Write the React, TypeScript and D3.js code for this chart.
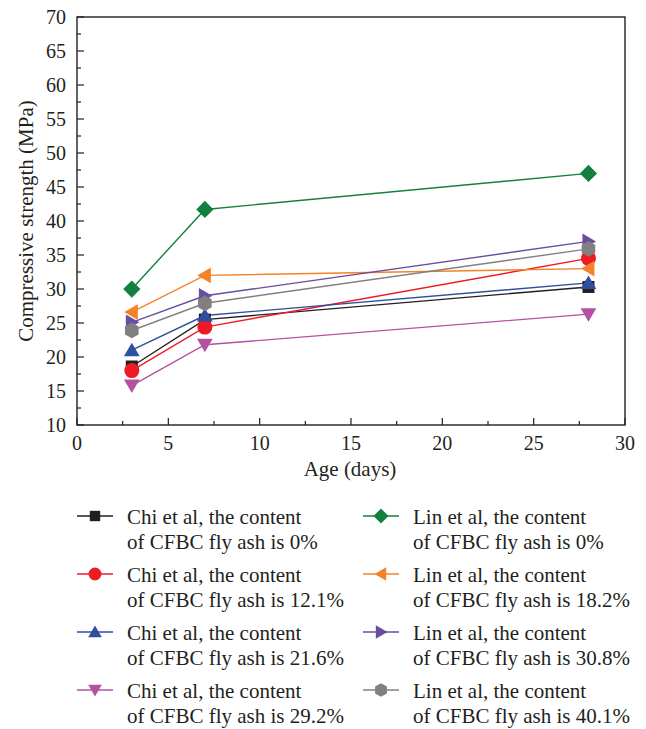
import React from "react";
import * as d3 from "d3";

const ages = [3, 7, 28];
const seriesNames = [
  "Chi et al, the content|of CFBC fly ash is 0%",
  "Chi et al, the content|of CFBC fly ash is 12.1%",
  "Chi et al, the content|of CFBC fly ash is 21.6%",
  "Chi et al, the content|of CFBC fly ash is 29.2%",
  "Lin et al, the content|of CFBC fly ash is 0%",
  "Lin et al, the content|of CFBC fly ash is 18.2%",
  "Lin et al, the content|of CFBC fly ash is 30.8%",
  "Lin et al, the content|of CFBC fly ash is 40.1%",
];
const chi0 = [18.6, 25.5, 30.3];
const chi121 = [18.0, 24.4, 34.5];
const chi216 = [21.0, 26.1, 30.9];
const chi292 = [15.8, 21.8, 26.3];
const lin0 = [30.0, 41.7, 47.0];
const lin182 = [26.6, 32.0, 33.0];
const lin308 = [25.1, 29.0, 37.0];
const lin401 = [23.9, 27.9, 35.9];
const seriesValues = [chi0, chi121, chi216, chi292, lin0, lin182, lin308, lin401];
const colors = ["#231f20", "#ed1c24", "#2e4fa0", "#b5529f", "#13803f", "#f58229", "#6a4ca0", "#808080"];
const markers = ["square", "circle", "up", "down", "diamond", "left", "right", "hex"];
const xTicks = [0, 5, 10, 15, 20, 25, 30];
const yTicks = [10, 15, 20, 25, 30, 35, 40, 45, 50, 55, 60, 65, 70];

const FONT = "'Liberation Serif', 'DejaVu Serif', serif";

function markerPath(type: string, s: number): string {
  switch (type) {
    case "square":
      return `M${-s * 0.8},${-s * 0.8}H${s * 0.8}V${s * 0.8}H${-s * 0.8}Z`;
    case "circle":
      return d3.symbol(d3.symbolCircle, Math.PI * s * s)() as string;
    case "up":
      return `M0,${-s}L${s * 1.05},${s * 0.8}L${-s * 1.05},${s * 0.8}Z`;
    case "down":
      return `M0,${s}L${s * 1.05},${-s * 0.8}L${-s * 1.05},${-s * 0.8}Z`;
    case "left":
      return `M${-s},0L${s * 0.8},${-s * 1.05}L${s * 0.8},${s * 1.05}Z`;
    case "right":
      return `M${s},0L${-s * 0.8},${-s * 1.05}L${-s * 0.8},${s * 1.05}Z`;
    case "diamond":
      return `M0,${-s * 1.15}L${s * 1.15},0L0,${s * 1.15}L${-s * 1.15},0Z`;
    case "hex": {
      const pts = d3.range(6).map((i) => {
        const a = (Math.PI / 3) * i - Math.PI / 2;
        return [Math.cos(a) * s * 1.05, Math.sin(a) * s * 1.05];
      });
      return "M" + pts.map((p) => p.join(",")).join("L") + "Z";
    }
  }
  return "";
}

export default function App() {
  const left = 77, right = 625, top = 17, bottom = 425;
  const x = d3.scaleLinear().domain([0, 30]).range([left, right]);
  const y = d3.scaleLinear().domain([10, 70]).range([bottom, top]);
  const line = d3
    .line<number>()
    .x((_, i) => x(ages[i]))
    .y((v) => y(v));
  const xMinor = d3.range(2.5, 30, 5);
  const yMinor = d3.range(12.5, 70, 5);

  return (
    <svg width={646} height={729} style={{ position: "absolute", left: 0, top: 0, background: "#fff" }}>
      <rect x={0} y={0} width={646} height={729} fill="#fff" />
      {seriesValues.map((vals, k) => (
        <path key={"l" + k} d={line(vals) as string} fill="none" stroke={colors[k]} strokeWidth={1.4} />
      ))}
      {seriesValues.map((vals, k) =>
        vals.map((v, i) => (
          <path key={"m" + k + "-" + i} d={markerPath(markers[k], 7.5)} transform={`translate(${x(ages[i])},${y(v)})`} fill={colors[k]} />
        ))
      )}
      <rect x={left} y={top} width={right - left} height={bottom - top} fill="none" stroke="#231f20" strokeWidth={1.4} />
      {xTicks.map((t) => (
        <g key={"xt" + t}>
          <line x1={x(t)} x2={x(t)} y1={bottom} y2={bottom - 7} stroke="#231f20" strokeWidth={1.2} />
          <text x={x(t)} y={bottom + 25} textAnchor="middle" fontFamily={FONT} fontSize={20} fill="#231f20">{t}</text>
        </g>
      ))}
      {xMinor.map((t) => (
        <line key={"xm" + t} x1={x(t)} x2={x(t)} y1={bottom} y2={bottom - 4} stroke="#231f20" strokeWidth={1.2} />
      ))}
      {yTicks.map((t) => (
        <g key={"yt" + t}>
          <line x1={left} x2={left + 7} y1={y(t)} y2={y(t)} stroke="#231f20" strokeWidth={1.2} />
          <text x={left - 11} y={y(t) + 7} textAnchor="end" fontFamily={FONT} fontSize={20} fill="#231f20">{t}</text>
        </g>
      ))}
      {yMinor.map((t) => (
        <line key={"ym" + t} x1={left} x2={left + 4} y1={y(t)} y2={y(t)} stroke="#231f20" strokeWidth={1.2} />
      ))}
      <text x={350} y={476} textAnchor="middle" fontFamily={FONT} fontSize={21} fill="#231f20">Age (days)</text>
      <text transform={`translate(33,${(top + bottom) / 2}) rotate(-90)`} textAnchor="middle" fontFamily={FONT} fontSize={21} fill="#231f20">
        Compressive strength (MPa)
      </text>
      {seriesNames.map((name, k) => {
        const col = Math.floor(k / 4);
        const row = k % 4;
        const lx = col === 0 ? 77 : 363;
        const cy = 516 + row * 58;
        const [l1, l2] = name.split("|");
        return (
          <g key={"lg" + k}>
            <line x1={lx} x2={lx + 36} y1={cy} y2={cy} stroke={colors[k]} strokeWidth={1.4} />
            <path d={markerPath(markers[k], 6.5)} transform={`translate(${lx + 18},${cy})`} fill={colors[k]} />
            <text x={lx + 50} y={cy + 8} fontFamily={FONT} fontSize={21} fill="#231f20">{l1}</text>
            <text x={lx + 50} y={cy + 33} fontFamily={FONT} fontSize={21} fill="#231f20">{l2}</text>
          </g>
        );
      })}
    </svg>
  );
}
